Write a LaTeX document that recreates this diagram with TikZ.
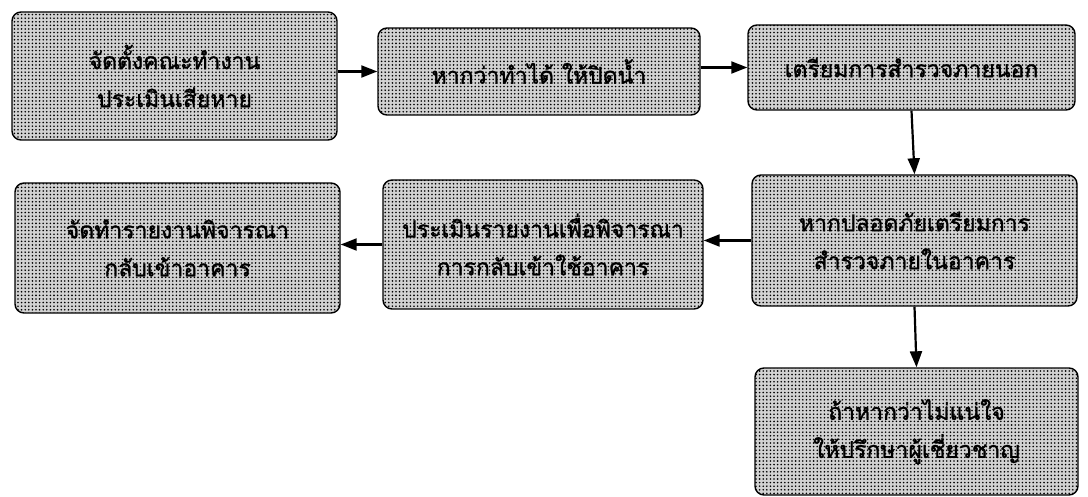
\documentclass[tikz,border=0pt]{standalone}
\usepackage{fontspec}
\newfontfamily\thaifont[Script=Thai,FakeBold=1.2]{Loma}
\usetikzlibrary{arrows.meta,patterns.meta}
\begin{document}
\begin{tikzpicture}[x=1pt,y=-1pt,
  box/.style={draw=black,line width=1.4pt,rounded corners=9pt,
    preaction={fill=gray!35},
    pattern={Dots[distance=3.6pt,radius=0.9pt]},pattern color=black,
    minimum width=#1,inner sep=0pt,align=center,
    font=\thaifont\fontsize{23}{38}\selectfont},
  flow/.style={line width=2.2pt,-{Triangle[length=16pt,width=12pt]}}]
\useasboundingbox (0,0) rectangle (1088,497);
\node[box=325pt,minimum height=128pt] (b1) at (174.5,76) {จัดตั้งคณะทำงาน\\ประเมินเสียหาย};
\node[box=322pt,minimum height=87pt] (b2) at (539,71.5) {หากว่าทำได้ ให้ปิดน้ำ};
\node[box=327pt,minimum height=85pt] (b3) at (911.5,67.5) {เตรียมการสำรวจภายนอก};
\node[box=325pt,minimum height=131pt] (b4) at (914.5,240.5) {หากปลอดภัยเตรียมการ\\สำรวจภายในอาคาร};
\node[box=320pt,minimum height=129pt] (b5) at (543,244.5) {ประเมินรายงานเพื่อพิจารณา\\การกลับเข้าใช้อาคาร};
\node[box=325pt,minimum height=130pt] (b6) at (177.5,248) {จัดทำรายงานพิจารณา\\กลับเข้าอาคาร};
\node[box=323pt,minimum height=127pt] (b7) at (916.5,431.5) {ถ้าหากว่าไม่แน่ใจ\\ให้ปรึกษาผู้เชี่ยวชาญ};
\draw[flow] (b1.east |- b2.west) -- (b2.west);
\draw[flow] (b2.east |- b3.west) -- (b3.west);
\draw[flow] (b3.south) -- (b4.north);
\draw[flow] (b4.west) -- (b5.east |- b4.west);
\draw[flow] (b5.west) -- (b6.east |- b5.west);
\draw[flow] (b4.south) -- (b7.north);
\end{tikzpicture}
\end{document}
